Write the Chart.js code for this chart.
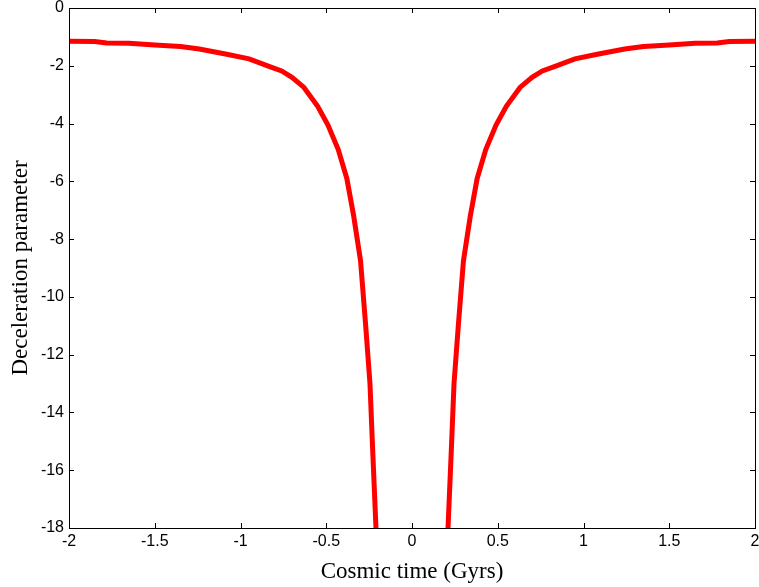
<!DOCTYPE html>
<html>
<head>
<meta charset="utf-8">
<script src="https://cdn.jsdelivr.net/npm/chart.js@4/dist/chart.umd.min.js"></script>
<style>
  body { margin: 0; background: #fff; }
  canvas { display: block; }
</style>
</head>
<body>
<canvas id="grafico" width="759" height="587"></canvas>
<script>
  // valores (simetrico em torno de t = 0, null = sem curva)
  const cosmicTime = [
    -2.00, -1.85, -1.78, -1.65, -1.50, -1.35, -1.24, -1.08, -0.95, -0.83, -0.76, -0.70,
    -0.63, -0.55, -0.49, -0.43, -0.38, -0.34, -0.30, -0.27, -0.245, -0.23, -0.21,
    0,
    0.21, 0.23, 0.245, 0.27, 0.30, 0.34, 0.38, 0.43, 0.49, 0.55, 0.63, 0.70,
    0.76, 0.83, 0.95, 1.08, 1.24, 1.35, 1.50, 1.65, 1.78, 1.85, 2.00
  ];
  const decelParam = [
    -1.15, -1.16, -1.21, -1.22, -1.28, -1.33, -1.42, -1.60, -1.76, -2.03, -2.18, -2.40,
    -2.75, -3.40, -4.05, -4.90, -5.90, -7.20, -8.75, -11.0, -13.0, -15.2, -18.0,
    null,
    -18.0, -15.2, -13.0, -11.0, -8.75, -7.20, -5.90, -4.90, -4.05, -3.40, -2.75, -2.40,
    -2.18, -2.03, -1.76, -1.60, -1.42, -1.33, -1.28, -1.22, -1.21, -1.16, -1.15
  ];
  const xTicks = [-2, -1.5, -1, -0.5, 0, 0.5, 1, 1.5, 2];
  const yTicks = [0, -2, -4, -6, -8, -10, -12, -14, -16, -18];

  let pontos = [];
  for (let i = 0; i < cosmicTime.length; i++) {
    pontos.push({ x: cosmicTime[i], y: decelParam[i] });
  }

  // moldura com marcas de escala para dentro, nos quatro lados
  const moldura = {
    id: "moldura",
    afterDraw(chart) {
      const ctx = chart.ctx;
      const a = chart.chartArea;
      const sx = chart.scales.x;
      const sy = chart.scales.y;
      const tam = 5;
      ctx.save();
      ctx.strokeStyle = "#000";
      ctx.lineWidth = 1;
      ctx.beginPath();
      xTicks.forEach(function (v) {
        let px = Math.round(sx.getPixelForValue(v)) + 0.5;
        ctx.moveTo(px, a.bottom);
        ctx.lineTo(px, a.bottom - tam);
        ctx.moveTo(px, a.top);
        ctx.lineTo(px, a.top + tam);
      });
      yTicks.forEach(function (v) {
        let py = Math.round(sy.getPixelForValue(v)) + 0.5;
        ctx.moveTo(a.left, py);
        ctx.lineTo(a.left + tam, py);
        ctx.moveTo(a.right, py);
        ctx.lineTo(a.right - tam, py);
      });
      ctx.stroke();
      ctx.strokeRect(Math.round(a.left) + 0.5, Math.round(a.top) + 0.5,
        Math.round(a.right - a.left), Math.round(a.bottom - a.top));
      ctx.restore();
    }
  };

  function rotulo(valor) {
    return String(valor);
  }

  const ctx1 = document.getElementById("grafico").getContext("2d");
  const myChart = new Chart(ctx1, {
    type: "scatter",
    data: {
      datasets: [
        {
          data: pontos,
          showLine: true,
          spanGaps: false,
          borderColor: "#ff0000",
          borderWidth: 5,
          pointRadius: 0,
          tension: 0,
        },
      ],
    },
    options: {
      responsive: false,
      animation: false,
      layout: { padding: { top: 8, right: 4, left: 0, bottom: 0 } },
      plugins: {
        legend: { display: false },
        tooltip: { enabled: false },
      },
      scales: {
        x: {
          type: "linear",
          min: -2,
          max: 2,
          afterBuildTicks: function (scale) {
            scale.ticks = xTicks.map(function (v) { return { value: v }; });
          },
          afterFit: function (scale) {
            scale.height = 59;
            scale.paddingLeft = 0;
            scale.paddingRight = 0;
          },
          grid: { drawOnChartArea: false, drawTicks: false },
          border: { display: false },
          ticks: {
            padding: 4,
            color: "#000",
            maxRotation: 0,
            callback: rotulo,
            font: { family: "Liberation Sans", size: 16 },
          },
          title: {
            display: true,
            text: "Cosmic time (Gyrs)",
            color: "#000",
            padding: { top: 0, bottom: 1 },
            font: { family: "Liberation Serif", size: 23 },
          },
        },
        y: {
          type: "linear",
          min: -18,
          max: 0,
          afterBuildTicks: function (scale) {
            scale.ticks = yTicks.map(function (v) { return { value: v }; });
          },
          afterFit: function (scale) {
            scale.width = 69;
            scale.paddingTop = 0;
            scale.paddingBottom = 0;
          },
          grid: { drawOnChartArea: false, drawTicks: false },
          border: { display: false },
          ticks: {
            padding: 5,
            color: "#000",
            callback: rotulo,
            font: { family: "Liberation Sans", size: 16 },
          },
          title: {
            display: true,
            text: "Deceleration parameter",
            color: "#000",
            padding: { top: 7, bottom: 0 },
            font: { family: "Liberation Serif", size: 23 },
          },
        },
      },
    },
    plugins: [moldura],
  });
</script>
</body>
</html>
